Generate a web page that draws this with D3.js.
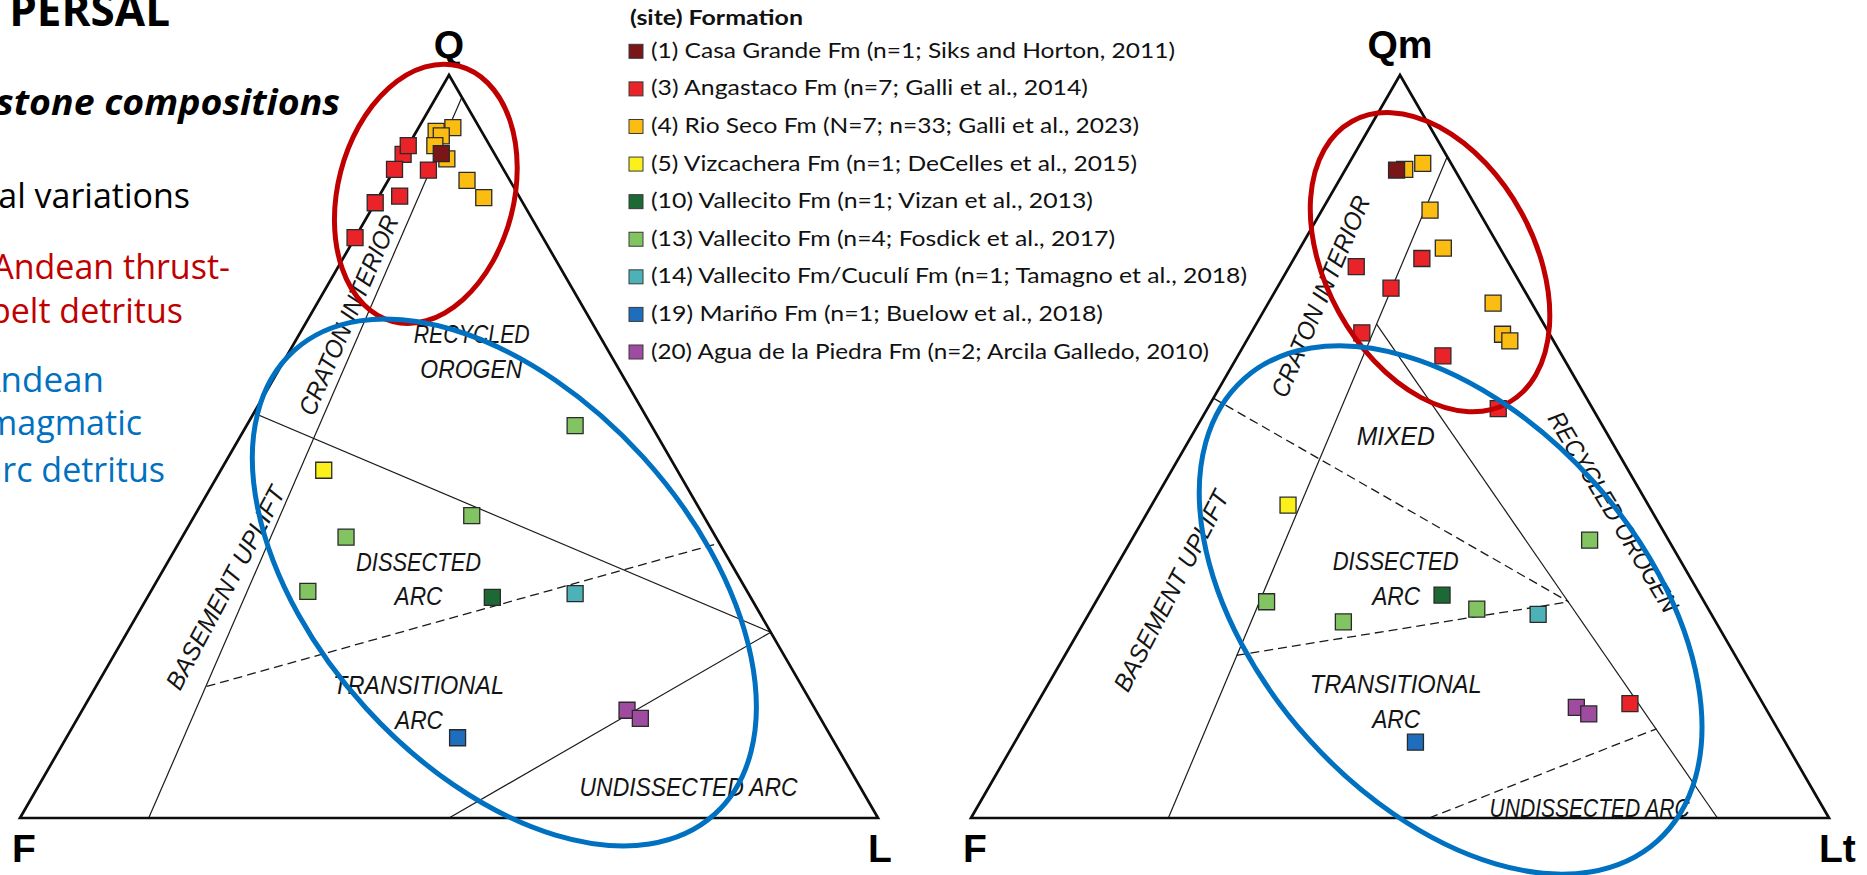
<!DOCTYPE html>
<html>
<head>
<meta charset="utf-8">
<script src="https://cdn.jsdelivr.net/npm/d3@7"></script>
<style>
  html, body { margin: 0; padding: 0; background: #ffffff; }
  svg { display: block; }
</style>
</head>
<body>
<svg id="chart" width="1867" height="875"></svg>
<script>
// ---------------------------------------------------------------------------
// Legend: sandstone sites (site number) Formation
// ---------------------------------------------------------------------------
const siteIds = [1, 3, 4, 5, 10, 13, 14, 19, 20];
const siteNames = [
  "(1) Casa Grande Fm (n=1; Siks and Horton, 2011)",
  "(3) Angastaco Fm (n=7; Galli et al., 2014)",
  "(4) Rio Seco Fm (N=7; n=33; Galli et al., 2023)",
  "(5) Vizcachera Fm (n=1; DeCelles et al., 2015)",
  "(10) Vallecito Fm (n=1; Vizan et al., 2013)",
  "(13) Vallecito Fm (n=4; Fosdick et al., 2017)",
  "(14) Vallecito Fm/Cuculí Fm (n=1; Tamagno et al., 2018)",
  "(19) Mariño Fm (n=1; Buelow et al., 2018)",
  "(20) Agua de la Piedra Fm (n=2; Arcila Galledo, 2010)"
];
const siteColors = ["#7a1518", "#ea2329", "#fcbd12", "#fbf01c", "#1d6935", "#83c462", "#4db2b7", "#1f6ebd", "#9f4ba0"];

// ---------------------------------------------------------------------------
// QFL point counts (%): Q = total quartz, F = feldspar, L = lithics
// ---------------------------------------------------------------------------
const qflSite = [3, 3, 3, 3, 3, 3, 3, 4, 4, 4, 4, 4, 4, 4, 1, 5, 10, 13, 13, 13, 13, 14, 19, 20, 20];
const qflQ = [89.3, 90.5, 87.3, 82.8, 83.7, 78.1, 87.2, 92.4, 92.9, 91.8, 90.5, 88.7, 85.8, 83.5, 89.4, 46.8, 29.7, 52.8, 40.7, 37.8, 30.5, 30.2, 10.8, 14.5, 13.4];
const qflF = [10.7, 9.5, 12.7, 17.2, 13.9, 21.9, 8.8, 5.3, 3.1, 5.0, 6.4, 5.9, 5.0, 4.2, 6.2, 41.2, 30.1, 8.9, 27.0, 43.1, 51.2, 20.2, 43.6, 22.0, 21.0];
const qflL = [0.0, 0.0, 0.0, 0.0, 2.4, 0.0, 4.0, 2.3, 4.0, 3.2, 3.1, 5.4, 9.2, 12.3, 4.4, 12.0, 40.2, 38.3, 32.3, 19.1, 18.3, 49.6, 45.6, 63.5, 65.6];

// ---------------------------------------------------------------------------
// QmFLt point counts (%): Qm = monocrystalline quartz, F = feldspar, Lt = total lithics
// ---------------------------------------------------------------------------
const qmfltSite = [3, 3, 3, 3, 3, 3, 3, 4, 4, 4, 4, 4, 4, 4, 1, 5, 10, 13, 13, 13, 13, 14, 19, 20, 20];
const qmfltQm = [75.3, 74.2, 71.3, 65.3, 62.2, 55.1, 15.4, 87.3, 88.1, 81.8, 76.7, 69.3, 65.1, 64.2, 87.2, 42.1, 30.0, 37.4, 29.1, 28.1, 26.4, 27.4, 10.2, 14.9, 14.0];
const qmfltF = [9.8, 18.0, 15.4, 21.8, 13.9, 11.0, 15.5, 5.8, 3.3, 5.6, 6.6, 4.5, 5.5, 5.1, 6.8, 42.0, 30.1, 9.2, 51.0, 27.0, 43.4, 20.2, 43.1, 22.0, 21.0];
const qmfltLt = [14.9, 7.8, 13.3, 12.9, 23.9, 33.9, 69.1, 6.9, 8.6, 12.6, 16.7, 26.2, 29.4, 30.7, 6.0, 15.9, 39.9, 53.4, 19.9, 44.9, 30.2, 52.4, 46.7, 63.1, 65.0];

// ---------------------------------------------------------------------------
// Provenance field boundaries (Dickinson et al., 1983), as [top, left, right] %
// ---------------------------------------------------------------------------
const qflSolidLines = [
  [[97, 0, 3], [0, 85, 15]],
  [[54.5, 45.5, 0], [25, 0, 75]],
  [[25, 0, 75], [0, 50, 50]]
];
const qflDashedLines = [
  [[17.7, 69.4, 12.9], [37, 0, 63]]
];
const qmfltSolidLines = [
  [[89, 0, 11], [0, 77, 23]],
  [[66.5, 19.5, 14], [0, 13, 87]]
];
const qmfltDashedLines = [
  [[56.5, 43.5, 0], [29.1, 15.8, 55.1]],
  [[21.9, 58.1, 20], [29.1, 15.8, 55.1]],
  [[0, 46.6, 53.4], [12, 14.1, 73.9]]
];

// Field names and where they sit (ternary %), with rotation in degrees
const qflFieldNames = ["RECYCLED", "OROGEN", "DISSECTED", "ARC", "TRANSITIONAL", "ARC", "UNDISSECTED ARC", "CRATON INTERIOR", "BASEMENT UPLIFT"];
const qflFieldAt = [[65.1, 14.8, 20.1], [60.4, 17.2, 22.4], [34.5, 36.3, 29.2], [29.9, 38.6, 31.5], [17.9, 44.6, 37.5], [13.2, 46.9, 39.9], [4.2, 20.0, 75.9], [67.7, 27.9, 4.4], [31.0, 60.6, 8.4]];
const qflFieldAngle = [0, 0, 0, 0, 0, 0, 0, -66.6, -62];
const qflFieldWidth = [116, 102, 125, 48, 171, 48, 218, 215, 226];

const qmfltFieldNames = ["MIXED", "DISSECTED", "ARC", "TRANSITIONAL", "ARC", "UNDISSECTED ARC", "CRATON INTERIOR", "BASEMENT UPLIFT", "RECYCLED OROGEN"];
const qmfltFieldAt = [[51.4, 24.8, 23.8], [34.6, 33.2, 32.2], [29.9, 35.5, 34.6], [18.0, 41.5, 40.5], [13.3, 43.8, 42.9], [1.4, 27.2, 71.4], [70.2, 24.2, 5.6], [30.6, 61.4, 8.0], [41.2, 4.5, 54.3]];
const qmfltFieldAngle = [0, 0, 0, 0, 0, 0, -67, -62.7, 59];
const qmfltFieldWidth = [78, 126, 48, 172, 48, 200, 216, 222, 229];

// Highlight ellipses: centre (ternary %), radii and tilt
const qflHighlights = [
  { at: [84.0, 10.7, 5.3], rx: 88, ry: 132, tilt: 14.5, color: "#c00000" },
  { at: [31.7, 27.7, 40.6], rx: 187, ry: 313, tilt: -42.3, color: "#0070c0" }
];
const qmfltHighlights = [
  { at: [74.8, 9.1, 16.1], rx: 104, ry: 161, tilt: -28.9, color: "#c00000" },
  { at: [28.0, 30.1, 41.9], rx: 192, ry: 310, tilt: -41.8, color: "#0070c0" }
];

// Set widths of the legend lines (header first), in px
const legendTextWidth = [173, 524, 437, 488, 486, 442, 464, 596, 452, 558];

// ---------------------------------------------------------------------------
const svg = d3.select("#chart");
const colorOf = d3.scaleOrdinal().domain(siteIds).range(siteColors);
const labelFont = "'Liberation Sans Narrow', 'Liberation Sans', Arial, sans-serif";
const slideFont = "'Open Sans', 'Noto Sans', sans-serif";

// Ternary projection built on two linear scales: horizontal position and height
function ternary(x0, x1, base) {
  const side = x1 - x0;
  const hx = d3.scaleLinear().domain([0, 100]).range([x0, x1]);
  const vy = d3.scaleLinear().domain([0, 100]).range([base, base - side * Math.sqrt(3) / 2]);
  return ([top, left, right]) => {
    const t = top + left + right;
    const q = top / t * 100, r = right / t * 100;
    return [hx(r + q / 2), vy(q)];
  };
}

function drawDiagram(cfg) {
  const project = ternary(cfg.x0, cfg.x1, cfg.base);
  const g = svg.append("g");
  const line = d3.line();

  const apex = project([100, 0, 0]);
  const leftV = project([0, 100, 0]);
  const rightV = project([0, 0, 100]);

  // field boundaries
  g.selectAll("path.solid").data(cfg.solid).join("path")
    .attr("class", "solid")
    .attr("d", d => line(d.map(project)))
    .attr("fill", "none").attr("stroke", "#1a1a1a").attr("stroke-width", 1.2);
  g.selectAll("path.dashed").data(cfg.dashed).join("path")
    .attr("class", "dashed")
    .attr("d", d => line(d.map(project)))
    .attr("fill", "none").attr("stroke", "#1a1a1a").attr("stroke-width", 1.3)
    .attr("stroke-dasharray", "9,5");

  // triangle frame
  g.append("path")
    .attr("d", line([apex, leftV, rightV]) + "Z")
    .attr("fill", "none").attr("stroke", "#0d0d0d").attr("stroke-width", 2.7)
    .attr("stroke-linejoin", "miter");

  // field names
  g.selectAll("text.field").data(cfg.fieldNames).join("text")
    .attr("class", "field")
    .attr("transform", (d, i) => {
      const [px, py] = project(cfg.fieldAt[i]);
      return `translate(${px},${py}) rotate(${cfg.fieldAngle[i]})`;
    })
    .attr("dy", "0.36em")
    .attr("text-anchor", "middle")
    .attr("font-family", labelFont)
    .attr("font-style", "italic")
    .attr("font-size", 25)
    .attr("fill", "#141414")
    .attr("textLength", (d, i) => cfg.fieldWidth[i])
    .attr("lengthAdjust", "spacingAndGlyphs")
    .text(d => d);

  // samples
  const idx = d3.range(cfg.site.length);
  const square = d3.symbol(d3.symbolSquare, 256);
  g.selectAll("path.sample").data(idx).join("path")
    .attr("class", "sample")
    .attr("transform", i => {
      const [px, py] = project([cfg.top[i], cfg.left[i], cfg.right[i]]);
      return `translate(${px},${py})`;
    })
    .attr("d", square)
    .attr("fill", i => colorOf(cfg.site[i]))
    .attr("stroke", "#2a2a2a").attr("stroke-width", 1.3);

  // vertex names
  const vfont = "'Liberation Sans', Arial, sans-serif";
  g.append("text").attr("x", apex[0]).attr("y", apex[1] - 17)
    .attr("text-anchor", "middle").attr("font-family", vfont).attr("font-weight", "bold")
    .attr("font-size", 39).attr("fill", "#000").text(cfg.names[0]);
  g.append("text").attr("x", leftV[0] - 8).attr("y", leftV[1] + 44)
    .attr("font-family", vfont).attr("font-weight", "bold")
    .attr("font-size", 39).attr("fill", "#000").text(cfg.names[1]);
  g.append("text").attr("x", rightV[0] - 10).attr("y", rightV[1] + 44)
    .attr("font-family", vfont).attr("font-weight", "bold")
    .attr("font-size", 39).attr("fill", "#000").text(cfg.names[2]);

  // highlight ellipses drawn over everything
  g.selectAll("ellipse").data(cfg.highlights).join("ellipse")
    .attr("transform", d => {
      const [px, py] = project(d.at);
      return `translate(${px},${py}) rotate(${d.tilt})`;
    })
    .attr("rx", d => d.rx).attr("ry", d => d.ry)
    .attr("fill", "none").attr("stroke", d => d.color).attr("stroke-width", 5);
}

// ---------------------------------------------------------------------------
// Slide text along the left margin
// ---------------------------------------------------------------------------
const slide = svg.append("g").attr("font-family", slideFont).attr("text-anchor", "end");
slide.append("text").attr("x", 170).attr("y", 26).attr("font-size", 44).attr("font-weight", "bold").attr("fill", "#000").text("PERSAL");
slide.append("text").attr("x", 340).attr("y", 115).attr("font-size", 35).attr("font-weight", "bold").attr("font-style", "italic")
  .attr("textLength", 344).attr("lengthAdjust", "spacingAndGlyphs").attr("fill", "#000").text("stone compositions");
slide.append("text").attr("x", 190).attr("y", 208).attr("font-size", 34).attr("fill", "#000").text("al variations");
slide.append("text").attr("x", 230).attr("y", 279).attr("font-size", 34).attr("fill", "#c00000").text("Andean thrust-");
slide.append("text").attr("x", 183).attr("y", 323).attr("font-size", 34).attr("fill", "#c00000").text("belt detritus");
slide.append("text").attr("x", 104).attr("y", 392).attr("font-size", 35).attr("fill", "#0070c0").text("Andean");
slide.append("text").attr("x", 142).attr("y", 435).attr("font-size", 34).attr("fill", "#0070c0").text("magmatic");
slide.append("text").attr("x", 165).attr("y", 482).attr("font-size", 34).attr("fill", "#0070c0").text("arc detritus");

// ---------------------------------------------------------------------------
// Diagrams
// ---------------------------------------------------------------------------
drawDiagram({
  x0: 20, x1: 878, base: 818, names: ["Q", "F", "L"],
  site: qflSite, top: qflQ, left: qflF, right: qflL,
  solid: qflSolidLines, dashed: qflDashedLines,
  fieldNames: qflFieldNames, fieldAt: qflFieldAt, fieldAngle: qflFieldAngle, fieldWidth: qflFieldWidth,
  highlights: qflHighlights
});
drawDiagram({
  x0: 971, x1: 1829, base: 818, names: ["Qm", "F", "Lt"],
  site: qmfltSite, top: qmfltQm, left: qmfltF, right: qmfltLt,
  solid: qmfltSolidLines, dashed: qmfltDashedLines,
  fieldNames: qmfltFieldNames, fieldAt: qmfltFieldAt, fieldAngle: qmfltFieldAngle, fieldWidth: qmfltFieldWidth,
  highlights: qmfltHighlights
});

// ---------------------------------------------------------------------------
// Legend
// ---------------------------------------------------------------------------
const legendFont = "Lato, 'Open Sans', sans-serif";
const legend = svg.append("g").attr("transform", "translate(629,0)");
legend.append("text").attr("x", 1).attr("y", 25)
  .attr("font-family", legendFont).attr("font-weight", "bold").attr("font-size", 20)
  .attr("textLength", legendTextWidth[0]).attr("lengthAdjust", "spacingAndGlyphs")
  .attr("fill", "#111").text("(site) Formation");
const rowY = d3.scalePoint().domain(siteIds).range([51.3, 352]);
const rows = legend.selectAll("g.row").data(siteIds).join("g")
  .attr("class", "row")
  .attr("transform", d => `translate(0,${rowY(d)})`);
rows.append("rect").attr("x", 0).attr("y", -7).attr("width", 14).attr("height", 14)
  .attr("fill", d => colorOf(d)).attr("stroke", "#3a3a3a").attr("stroke-width", 1);
rows.append("text").attr("x", 22).attr("y", 6.5)
  .attr("font-family", legendFont).attr("font-size", 20.5).attr("fill", "#111")
  .attr("textLength", (d, i) => legendTextWidth[i + 1]).attr("lengthAdjust", "spacingAndGlyphs")
  .text((d, i) => siteNames[i]);
</script>
</body>
</html>
